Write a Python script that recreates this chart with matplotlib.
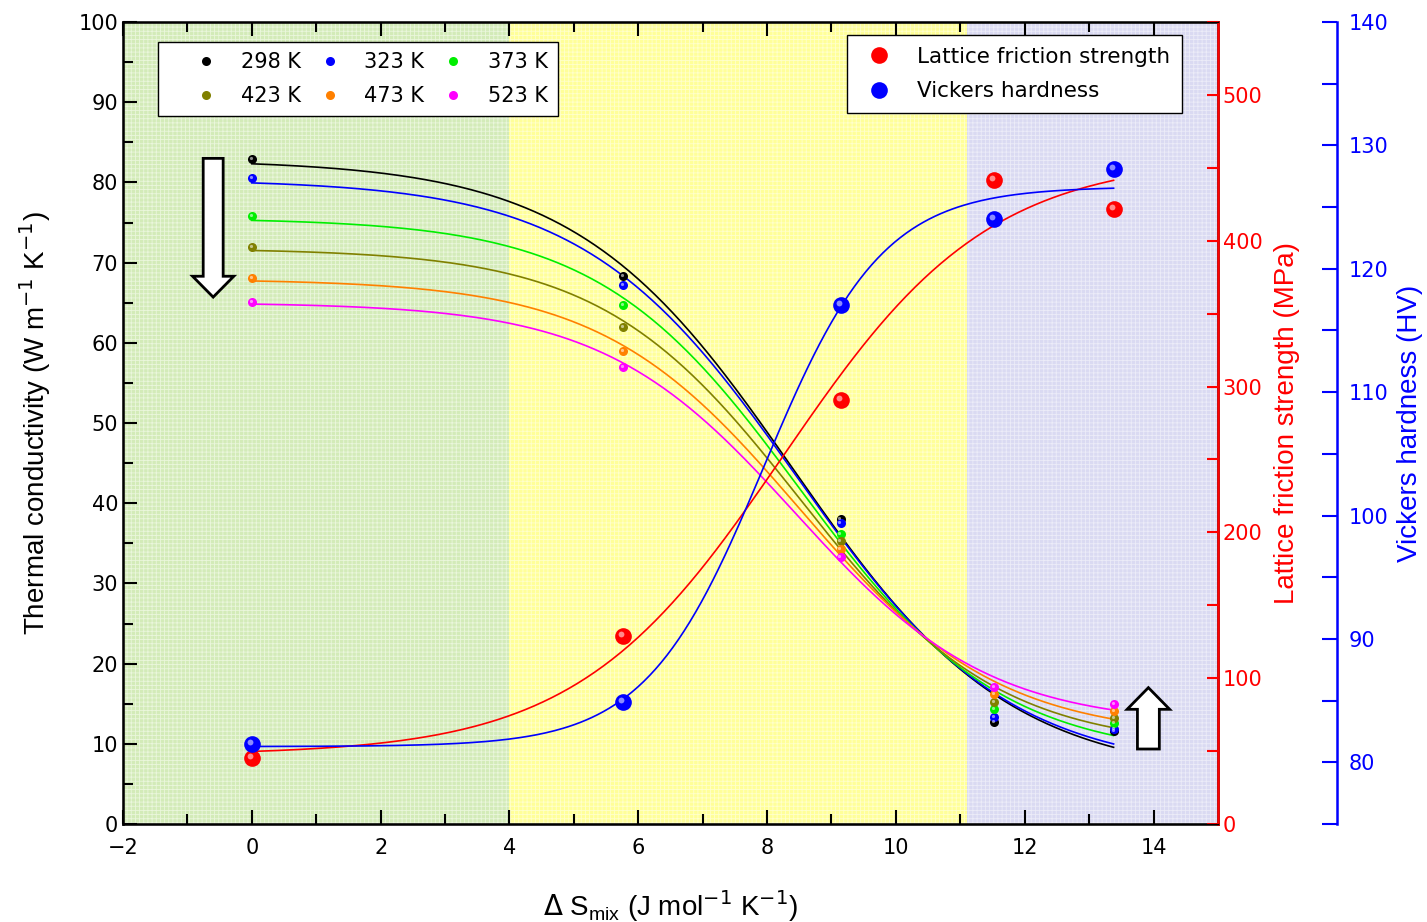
import numpy as np
import matplotlib
matplotlib.use("Agg")
from matplotlib import pyplot as plt
from matplotlib.patches import FancyArrow
from matplotlib.transforms import ScaledTranslation

# data
s_mix = [0.0, 5.77, 9.14, 11.53, 13.38]
temps = ["298 K", "323 K", "373 K", "423 K", "473 K", "523 K"]
colors = ["black", "#0000ff", "#00ee00", "#808000", "#ff8000", "#ff00ff"]
k_298 = [82.9, 68.3, 38.0, 12.7, 11.6]
k_323 = [80.5, 67.2, 37.5, 13.3, 11.8]
k_373 = [75.8, 64.7, 36.2, 14.3, 12.6]
k_423 = [71.9, 62.0, 35.3, 15.2, 13.2]
k_473 = [68.1, 59.0, 34.3, 16.2, 14.1]
k_523 = [65.1, 57.0, 33.3, 17.1, 15.0]
conductivity = [k_298, k_323, k_373, k_423, k_473, k_523]
friction = [45, 129, 291, 442, 422]
hardness = [81.5, 84.9, 117.1, 124.0, 128.1]

LABEL_FONT = ["Liberation Sans", "DejaVu Sans"]


def boltzmann_fit(x, y):
    """Least-squares Boltzmann sigmoid fit (grid over x0, dx; linear in A1, A2)."""
    x = np.asarray(x, float)
    y = np.asarray(y, float)
    best = None
    for x0 in np.linspace(3, 13, 201):
        for dx in np.linspace(0.2, 4, 191):
            s = 1 / (1 + np.exp((x - x0) / dx))
            m = np.column_stack([s, 1 - s])
            coef = np.linalg.lstsq(m, y, rcond=None)[0]
            err = np.sum((m @ coef - y) ** 2)
            if best is None or err < best[0]:
                best = (err, coef[0], coef[1], x0, dx)
    _, a1, a2, x0, dx = best
    return lambda t: a2 + (a1 - a2) / (1 + np.exp((t - x0) / dx))


def ball(ax, x, y, color, size):
    """Marker with a small highlight to look like a shaded sphere."""
    ax.plot(x, y, "o", color=color, ms=size, mec="none", zorder=5)
    off = ax.transData + ScaledTranslation(-size * 0.12 / 72, size * 0.12 / 72,
                                           ax.figure.dpi_scale_trans)
    ax.plot(x, y, "o", color="white", alpha=0.55, ms=size * 0.35, mec="none",
            transform=off, zorder=6)


plt.rcParams["font.family"] = ["DejaVu Sans"]
plt.rcParams["hatch.linewidth"] = 0.6
fig = plt.figure(figsize=(14.27, 9.22), dpi=100)
ax = fig.add_axes((0.0862, 0.1063, 0.7673, 0.8698))

# shaded regions
ax.axvspan(-2, 4, facecolor="#d3ebb8", edgecolor="#eaf6dc", hatch="++++", lw=0, zorder=0)
ax.axvspan(4, 11.1, facecolor="#ffff99", edgecolor="#ffffcc", hatch="++++", lw=0, zorder=0)
ax.axvspan(11.1, 15, facecolor="#dadaf2", edgecolor="#ececf8", hatch="++++", lw=0, zorder=0)

xfit = np.linspace(s_mix[0], s_mix[-1], 300)
handles = []
for vals, c in zip(conductivity, colors):
    f = boltzmann_fit(s_mix, vals)
    ax.plot(xfit, f(xfit), color=c, lw=1.2, zorder=3)
    ball(ax, s_mix, vals, c, 6.5)
    handles.append(ax.plot([], [], "o", color=c, ms=6.5, mec="none")[0])

ax.set_xlim(-2, 15)
ax.set_ylim(0, 100)
ax.set_xticks(np.arange(-2, 15, 2))
ax.set_xticks(np.arange(-2, 15, 1), minor=True)
ax.set_yticks(np.arange(0, 101, 10))
ax.set_yticks(np.arange(0, 101, 5), minor=True)
ax.tick_params(which="both", direction="in", top=True, width=1.5, labelsize=15)
ax.tick_params(which="major", length=10)
ax.tick_params(which="minor", length=7)
ax.tick_params(axis="x", pad=10)
for sp in ax.spines.values():
    sp.set_linewidth(1.8)
ax.set_ylabel(r"Thermal conductivity (W m$^{-1}$ K$^{-1}$)", fontsize=20, labelpad=18,
              family=LABEL_FONT)
ax.set_xlabel(r"$\Delta$ S$\mathregular{_{mix}}$ (J mol$^{-1}$ K$^{-1}$)", fontsize=20,
              labelpad=22, family=LABEL_FONT)

# hollow arrows
ax.add_patch(FancyArrow(-0.60, 83.0, 0, -17.3, width=0.31, head_width=0.64,
                        head_length=2.6, length_includes_head=True, fc="white",
                        ec="black", lw=2, zorder=4))
ax.add_patch(FancyArrow(13.92, 9.35, 0, 7.65, width=0.34, head_width=0.66,
                        head_length=2.7, length_includes_head=True, fc="white",
                        ec="black", lw=2, zorder=4))

# legend filled row by row, as in the reference
order = [0, 3, 1, 4, 2, 5]
leg1 = ax.legend([handles[i] for i in order], [temps[i] for i in order], ncol=3,
                 loc="upper left", bbox_to_anchor=(0.032, 0.975), borderaxespad=0,
                 fancybox=False, edgecolor="black", framealpha=1, fontsize=15,
                 handlelength=3.7, handletextpad=-0.2, columnspacing=-0.45,
                 borderpad=0.47, labelspacing=0.67)
leg1.get_frame().set_linewidth(1.0)

# lattice friction strength axis
ax_r = ax.twinx()
ax_r.set_ylim(0, 550)
fr = boltzmann_fit(s_mix, friction)
ax_r.plot(xfit, fr(xfit), color="red", lw=1.2, zorder=3)
ball(ax_r, s_mix, friction, "red", 12)
ax_r.set_yticks(np.arange(0, 501, 100))
ax_r.set_yticks(np.arange(0, 551, 50), minor=True)
ax_r.tick_params(which="both", direction="in", length=8, width=1.5, colors="red",
                 labelsize=15)
ax_r.spines["right"].set_color("red")
ax_r.spines["right"].set_linewidth(1.8)
ax_r.set_ylabel("Lattice friction strength (MPa)", color="red", fontsize=20, labelpad=8,
                family=LABEL_FONT)

# vickers hardness axis
ax_b = ax.twinx()
ax_b.set_ylim(75, 140)
hv = boltzmann_fit(s_mix, hardness)
ax_b.plot(xfit, hv(xfit), color="#0000ff", lw=1.2, zorder=3)
ball(ax_b, s_mix, hardness, "#0000ff", 12)
ax_b.spines["right"].set_position(("outward", 86))
ax_b.spines["right"].set_color("#0000ff")
ax_b.spines["right"].set_linewidth(1.8)
ax_b.set_yticks(np.arange(80, 141, 10))
ax_b.set_yticks(np.arange(75, 141, 5), minor=True)
ax_b.tick_params(which="both", direction="in", length=11, width=1.5, colors="#0000ff",
                 labelsize=15, pad=8)
ax_b.set_ylabel("Vickers hardness (HV)", color="#0000ff", fontsize=20, labelpad=6,
                family=LABEL_FONT)

h_r = ax_b.plot([], [], "o", color="red", ms=12, mec="none")[0]
h_b = ax_b.plot([], [], "o", color="#0000ff", ms=12, mec="none")[0]
leg2 = ax_b.legend([h_r, h_b], ["Lattice friction strength", "Vickers hardness"],
                   loc="upper right", bbox_to_anchor=(0.967, 0.984), borderaxespad=0,
                   fancybox=False, edgecolor="black", framealpha=1, fontsize=15.5,
                   handlelength=1.86, handletextpad=0.84, borderpad=0.55,
                   labelspacing=0.68)
leg2.get_frame().set_linewidth(1.0)

fig.savefig("out.png", dpi=100)
